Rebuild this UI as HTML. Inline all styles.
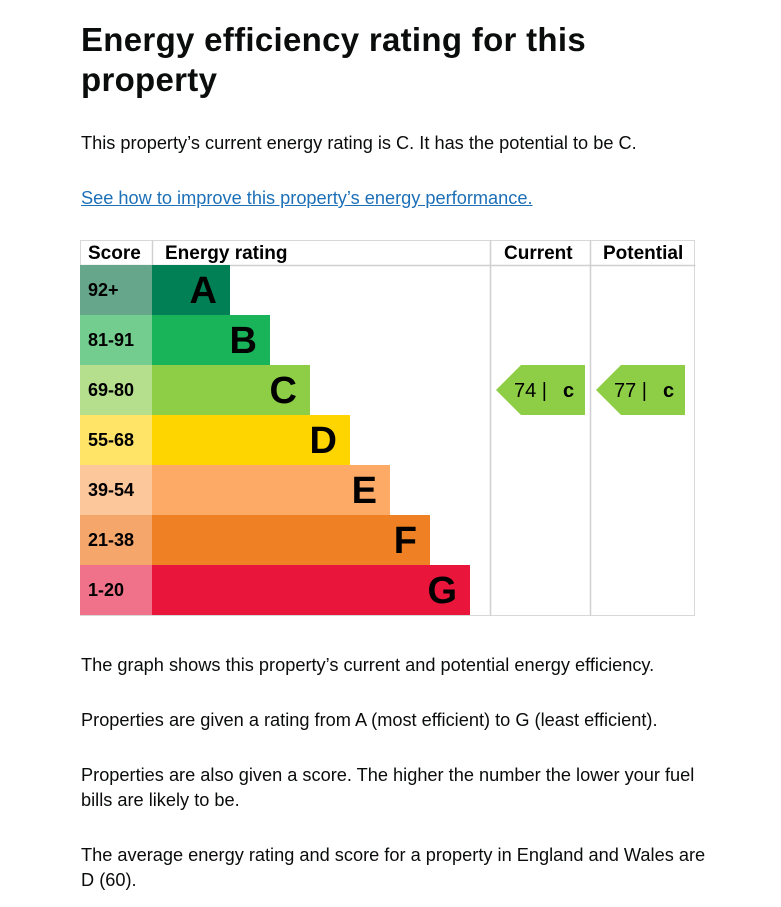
<!DOCTYPE html>
<html><head><meta charset="utf-8"><style>
body{margin:0;width:781px;height:907px;background:#fff;font-family:"Liberation Sans",sans-serif;color:#0b0c0c;position:relative;overflow:hidden}
.t{position:absolute;left:81px;margin:0;white-space:nowrap}
h1.t{font-size:33px;font-weight:bold;line-height:40px;letter-spacing:0.3px;top:20px}
p.t{font-size:18.2px;line-height:25px;letter-spacing:0px}
a{color:#1d70b8;text-decoration:underline}
svg{position:absolute;left:0;top:0}
</style></head><body>
<h1 class="t">Energy efficiency rating for this<br>property</h1>
<p class="t" style="top:131px">This property’s current energy rating is C. It has the potential to be C.</p>
<p class="t" style="top:186px"><a href="#">See how to improve this property’s energy performance.</a></p>
<svg id="chart" width="781" height="907"></svg>
<p class="t" style="top:653px">The graph shows this property’s current and potential energy efficiency.</p>
<p class="t" style="top:708px">Properties are given a rating from A (most efficient) to G (least efficient).</p>
<p class="t" style="top:763px">Properties are also given a score. The higher the number the lower your fuel<br>bills are likely to be.</p>
<p class="t" style="top:843px">The average energy rating and score for a property in England and Wales are<br>D (60).</p>
<script>
const bands=["A","B","C","D","E","F","G"];
const ranges=["92+","81-91","69-80","55-68","39-54","21-38","1-20"];
const mins=[92,81,69,55,39,21,1];
const currentScore=74;
const potentialScore=77;
const barColors=["#008054","#19b459","#8dce46","#ffd500","#fcaa65","#ef8023","#e9153b"];
const scoreColors=["#66a68a","#73cd8e","#b5df8d","#ffe467","#fdc79c","#f4a66b","#f0728a"];
const svg=document.getElementById('chart');
const NS='http://www.w3.org/2000/svg';
function mk(tag,attrs,txt){const e=document.createElementNS(NS,tag);for(const k in attrs)e.setAttribute(k,attrs[k]);if(txt!=null)e.textContent=txt;svg.appendChild(e);return e;}
const top0=265,rowH=50,left=80,barX=152,barW0=78,barStep=40,curX=490,potX=590,right=695;
const y=i=>top0+i*rowH;
const bandOf=s=>{for(let i=0;i<mins.length;i++)if(s>=mins[i])return i;return 6;};
let g=mk('rect',{x:left+0.5,y:240.5,width:right-left-1,height:375,fill:'none',stroke:'#d8d8d8'});

[[left,265,right,265],[barX,240,barX,265],[curX,240,curX,615],[potX,240,potX,615]].forEach(l=>{const e=mk('line',{x1:l[0]+0.5,y1:l[1]+0.5,x2:l[2]+0.5,y2:l[3]+0.5,stroke:'#d0d0d0','stroke-width':1.5});
});
const hdr=[["Score",88],["Energy rating",165],["Current",504],["Potential",603]];
hdr.forEach(h=>{const e=mk('text',{x:h[1],y:259,'font-size':19,'font-weight':'bold',fill:'#000'},h[0]);
});
bands.forEach((b,i)=>{
 let r=mk('rect',{x:left,y:y(i),width:barX-left,height:rowH,fill:scoreColors[i]});
 
 let t=mk('text',{x:88,y:y(i)+31,'font-size':18,'font-weight':'bold',fill:'#000'},ranges[i]);
 
 const w=barW0+i*barStep;
 let br=mk('rect',{x:barX,y:y(i),width:w,height:rowH,fill:barColors[i]});
 
 let bt=mk('text',{x:barX+w-13,y:y(i)+38,'font-size':38,'font-weight':'bold','text-anchor':'end',fill:'#000'},b);
 
});
function arrow(x0,score,name){
 const i=bandOf(score),yy=y(i);
 const p=mk('polygon',{points:`${x0+6},${yy+25} ${x0+31},${yy} ${x0+95},${yy} ${x0+95},${yy+50} ${x0+31},${yy+50}`,fill:barColors[i]});
 
 const t=mk('text',{x:x0+24,y:yy+32,'font-size':20,fill:'#000'},score+' |');
 
 const l=mk('text',{x:x0+73,y:yy+32,'font-size':20,'font-weight':'bold',fill:'#000'},bands[i].toLowerCase());
 
}
arrow(curX,currentScore,'current');
arrow(potX,potentialScore,'potential');
</script>
</body></html>
